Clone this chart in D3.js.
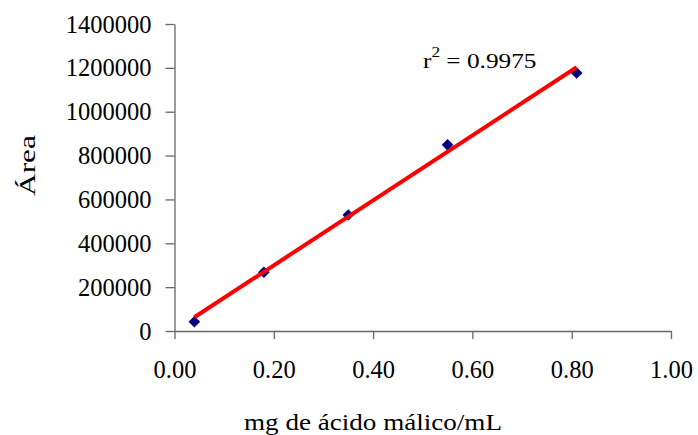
<!DOCTYPE html>
<html><head><meta charset="utf-8">
<script src="https://cdn.jsdelivr.net/npm/d3@7"></script>
<style>body{margin:0;background:#fff}svg{display:block}text{font-family:"Liberation Serif","Times New Roman",serif;fill:#000}</style>
</head><body><svg id="c" width="698" height="435"></svg>
<script>
const xValues = [0.04, 0.18, 0.35, 0.55, 0.81];
const yValues = [42000, 268000, 529000, 849000, 1177000];
const xTicks = [0, 0.2, 0.4, 0.6, 0.8, 1.0];
const yTicks = [0, 200000, 400000, 600000, 800000, 1000000, 1200000, 1400000];
const fitSlope = 1481000, fitIntercept = 3300;
const r2Label = "0.9975";

const svg = d3.select("#c");
const x = d3.scaleLinear().domain([0, 1]).range([174.5, 671]);
const y = d3.scaleLinear().domain([0, 1400000]).range([331, 24]);
const axisColor = "#666";

const gx = svg.append("g").attr("transform", `translate(0,${y(0)})`)
  .call(d3.axisBottom(x).tickValues(xTicks).tickFormat(d3.format(".2f")).tickSize(8).tickSizeOuter(0));
gx.select(".domain").attr("stroke", axisColor).attr("stroke-width", 1.3);
gx.selectAll(".tick line").attr("stroke", axisColor).attr("stroke-width", 1.3);
gx.selectAll(".tick text").attr("font-size", 24.5).attr("dy", null).attr("y", 47)
  .style("font-family", '"Liberation Serif",serif').attr("fill", "#000");

const gy = svg.append("g").attr("transform", `translate(${x(0)},0)`)
  .call(d3.axisLeft(y).tickValues(yTicks).tickFormat(d3.format("d")).tickSize(9).tickSizeOuter(0));
gy.select(".domain").attr("stroke", axisColor).attr("stroke-width", 1.3);
gy.selectAll(".tick line").attr("stroke", axisColor).attr("stroke-width", 1.3);
gy.selectAll(".tick text").attr("font-size", 24.5).attr("x", -23).attr("dy", "0.33em")
  .style("font-family", '"Liberation Serif",serif').attr("fill", "#000");

// points (drawn under the fit line)
svg.selectAll("path.pt").data(xValues.map((v, i) => [v, yValues[i]])).enter()
  .append("path").attr("class", "pt")
  .attr("d", d3.symbol().type(d3.symbolSquare).size(68))
  .attr("transform", d => `translate(${x(d[0])},${y(d[1])}) rotate(45)`)
  .attr("fill", "#000080");

// fit line
const x0 = xValues[0], x1 = xValues[xValues.length - 1];
svg.append("line")
  .attr("x1", x(x0)).attr("y1", y(fitSlope * x0 + fitIntercept))
  .attr("x2", x(x1)).attr("y2", y(fitSlope * x1 + fitIntercept))
  .attr("stroke", "#ff0000").attr("stroke-width", 4);

// r2 label
const t = svg.append("text").attr("transform", "translate(423,68) scale(1.15,1)").attr("font-size", 22);
t.append("tspan").text("r");
t.append("tspan").attr("font-size", 15).attr("dy", -11).text("2");
t.append("tspan").attr("dy", 11).text(" = " + r2Label);

// axis titles
svg.append("text").attr("x", 244).attr("y", 430)
  .attr("font-size", 24).attr("textLength", 258).attr("lengthAdjust", "spacingAndGlyphs")
  .text("mg de ácido málico/mL");
svg.append("text").attr("transform", "translate(35,196) rotate(-90)")
  .attr("font-size", 24).attr("textLength", 61).attr("lengthAdjust", "spacingAndGlyphs")
  .text("Área");
</script></body></html>
